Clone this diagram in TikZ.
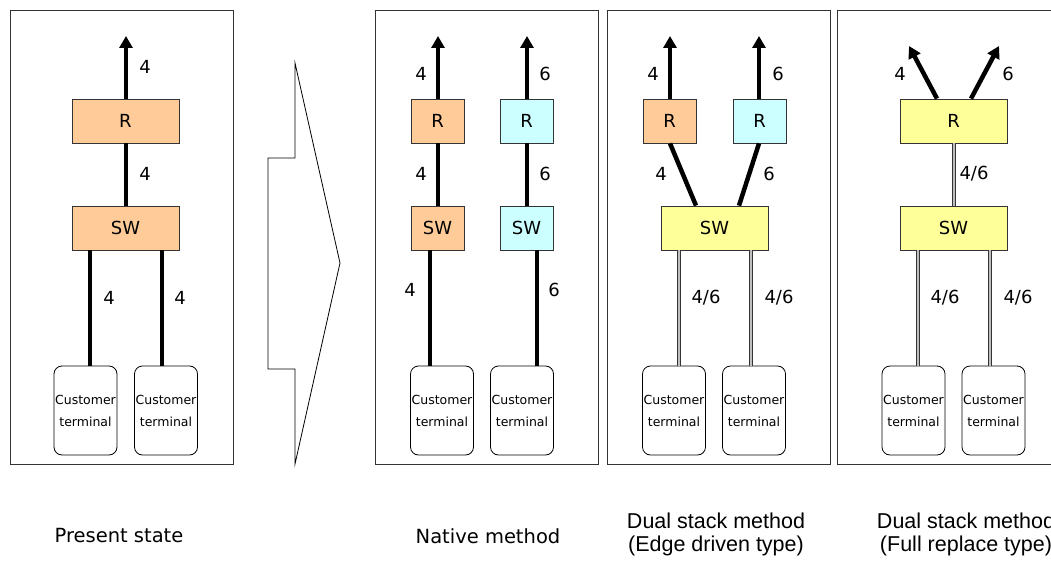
\documentclass[tikz,border=0pt]{standalone}
\usepackage{fontspec}
\setmainfont{DejaVu Sans}
\newfontfamily\capfont{Liberation Sans}
\usetikzlibrary{arrows.meta,calc}
\definecolor{orangebox}{HTML}{FFCC99}
\definecolor{cyanbox}{HTML}{CCFFFF}
\definecolor{yellowbox}{HTML}{FFFF99}
\begin{document}
\begin{tikzpicture}[x=1pt,y=-1pt,
  panel/.style={draw=black!80,line width=0.8pt},
  dev/.style={draw=black!80,line width=0.8pt,inner sep=0pt,font=\fontsize{18}{20}\selectfont},
  wide/.style={dev,minimum width=107pt,minimum height=44pt},
  narrow/.style={dev,minimum width=53pt,minimum height=44pt},
  term/.style={draw=black,line width=0.8pt,rounded corners=8pt,minimum width=63pt,minimum height=89pt,inner sep=0pt,align=center,font=\fontsize{12.5}{22}\selectfont},
  thick4/.style={line width=4.5pt},
  up/.style={thick4,-{Triangle[length=12pt,width=13pt]}},
  dual/.style={draw=black!80,line width=0.9pt,double=black!25,double distance=2.2pt},
  lbl/.style={font=\fontsize{18}{20}\selectfont,inner sep=0pt},
  captxt/.style={font=\fontsize{19.5}{23}\selectfont,align=center,inner sep=0pt},
  captxtb/.style={font=\capfont\fontsize{21.5}{23}\selectfont,align=center,inner sep=0pt}]
\useasboundingbox (0,0) rectangle (1051,561);
\fill[white] (0,0) rectangle (1051,561);

% panels
\draw[panel] (10,10) rectangle (233,464);
\draw[panel] (375,10) rectangle (598,464);
\draw[panel] (607,10) rectangle (830,464);
\draw[panel] (837,10) rectangle (1062,464);

% big arrow
\draw[line width=0.8pt,line join=miter] (295,63) -- (295,158) -- (268,158) -- (268,369) -- (295,369) -- (295,464) -- (340,263) -- cycle;

% ---------- Panel 1: present state
\node[wide,fill=orangebox] (r1) at (125.5,121) {R};
\node[wide,fill=orangebox] (s1) at (125.5,228) {SW};
\node[term] (t1a) at (85.5,410.5) {Customer\\terminal};
\node[term] (t1b) at (166,410.5) {Customer\\terminal};
\coordinate (o1) at (126,36);
\draw[up] (r1.north -| o1) -- (o1);
\draw[thick4] (r1.south -| o1) -- (s1.north -| o1);
\draw[thick4] (s1.south -| 90,0) -- (t1a.north -| 90,0);
\draw[thick4] (s1.south -| 162,0) -- (t1b.north -| 162,0);
\node[lbl] at (145,67) {4};
\node[lbl] at (145,174) {4};
\node[lbl] at (109,298) {4};
\node[lbl] at (180,298) {4};

% ---------- Panel 2: native
\node[narrow,fill=orangebox] (r2a) at (437.5,121) {R};
\node[narrow,fill=orangebox] (s2a) at (437.5,228) {SW};
\node[narrow,fill=cyanbox] (r2b) at (526.5,121) {R};
\node[narrow,fill=cyanbox] (s2b) at (526.5,228) {SW};
\node[term] (t2a) at (442,410.5) {Customer\\terminal};
\node[term] (t2b) at (522,410.5) {Customer\\terminal};
\coordinate (o2a) at (438,36);
\coordinate (o2b) at (527,36);
\draw[up] (r2a.north -| o2a) -- (o2a);
\draw[up] (r2b.north -| o2b) -- (o2b);
\draw[thick4] (r2a.south -| o2a) -- (s2a.north -| o2a);
\draw[thick4] (r2b.south -| o2b) -- (s2b.north -| o2b);
\draw[thick4] (s2a.south -| 430,0) -- (t2a.north -| 430,0);
\draw[thick4] (s2b.south -| 537,0) -- (t2b.north -| 537,0);
\node[lbl] at (421,74) {4};
\node[lbl] at (545,74) {6};
\node[lbl] at (421,174) {4};
\node[lbl] at (545,174) {6};
\node[lbl] at (410,290) {4};
\node[lbl] at (554,290) {6};

% ---------- Panel 3: dual stack edge driven
\node[narrow,fill=orangebox] (r3a) at (669.5,121) {R};
\node[narrow,fill=cyanbox] (r3b) at (759.5,121) {R};
\node[wide,fill=yellowbox] (s3) at (714.5,228) {SW};
\node[term] (t3a) at (674,410.5) {Customer\\terminal};
\node[term] (t3b) at (754,410.5) {Customer\\terminal};
\coordinate (o3a) at (670,36);
\coordinate (o3b) at (759,36);
\draw[up] (r3a.north -| o3a) -- (o3a);
\draw[up] (r3b.north -| o3b) -- (o3b);
\draw[thick4] (r3a.south -| o3a) -- (s3.north -| 696,0);
\draw[thick4] (r3b.south -| o3b) -- (s3.north -| 739,0);
\draw[dual] (s3.south -| 679,0) -- (t3a.north -| 679,0);
\draw[dual] (s3.south -| 751,0) -- (t3b.north -| 751,0);
\node[lbl] at (653,74) {4};
\node[lbl] at (778,74) {6};
\node[lbl] at (661,174) {4};
\node[lbl] at (769,174) {6};
\node[lbl] at (706,298) {4/6};
\node[lbl] at (779,298) {4/6};

% ---------- Panel 4: dual stack full replace
\node[wide,fill=yellowbox] (r4) at (953.5,121) {R};
\node[wide,fill=yellowbox] (s4) at (953.5,228) {SW};
\node[term] (t4a) at (913.5,410.5) {Customer\\terminal};
\node[term] (t4b) at (993.5,410.5) {Customer\\terminal};
\coordinate (o4a) at (909,46);
\coordinate (o4b) at (999,46);
\draw[up] (r4.north -| 937,0) -- (o4a);
\draw[up] (r4.north -| 971,0) -- (o4b);
\draw[dual] (r4.south -| 954,0) -- (s4.north -| 954,0);
\draw[dual] (s4.south -| 918,0) -- (t4a.north -| 918,0);
\draw[dual] (s4.south -| 990,0) -- (t4b.north -| 990,0);
\node[lbl] at (900,74) {4};
\node[lbl] at (1008,74) {6};
\node[lbl] at (974,174) {4/6};
\node[lbl] at (945,298) {4/6};
\node[lbl] at (1018,298) {4/6};

% captions
\node[captxt] (c1) at (119,536) {Present state};
\node[captxt] (c2) at (488,536) {Native method};
\node[captxtb] (c3) at (716,534) {Dual stack method\\(Edge driven type)};
\node[captxtb] (c4) at (966,534) {Dual stack method\\(Full replace type)};
\end{tikzpicture}
\end{document}
